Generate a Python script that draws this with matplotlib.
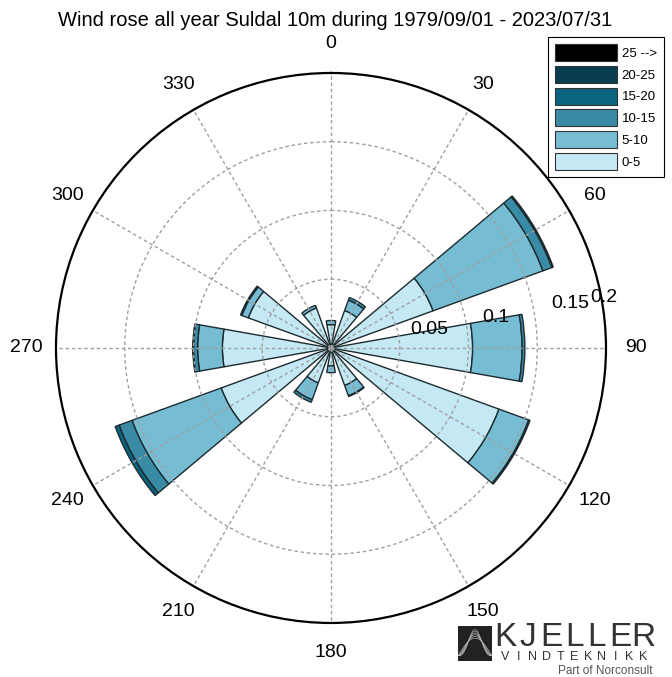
import numpy as np
import matplotlib
matplotlib.use("Agg")
import matplotlib.pyplot as plt
from matplotlib.patches import Patch

plt.rcParams['font.family'] = ['Liberation Sans', 'DejaVu Sans']

# wind direction sectors (degrees from north, clockwise)
directions = [0, 30, 60, 90, 120, 150, 180, 210, 240, 270, 300, 330]

# frequency per speed bin (fraction of time)
freq_0_5 = [0.017, 0.029, 0.079, 0.103, 0.130, 0.029, 0.013, 0.027, 0.085, 0.079, 0.064, 0.031]
freq_5_10 = [0.003, 0.008, 0.085, 0.036, 0.023, 0.008, 0.005, 0.013, 0.069, 0.018, 0.005, 0.002]
freq_10_15 = [0.0, 0.002, 0.007, 0.002, 0.001, 0.0005, 0.0, 0.002, 0.010, 0.003, 0.001, 0.0]
freq_15_20 = [0.0, 0.0, 0.001, 0.0, 0.0, 0.0, 0.0, 0.0, 0.003, 0.0005, 0.0, 0.0]
freq_20_25 = [0.0, 0.0, 0.0, 0.0, 0.0, 0.0, 0.0, 0.0, 0.0, 0.0, 0.0, 0.0]
freq_25_up = [0.0, 0.0, 0.0, 0.0, 0.0, 0.0, 0.0, 0.0, 0.0, 0.0, 0.0, 0.0]

speed_labels = ["0-5", "5-10", "10-15", "15-20", "20-25", "25 -->"]
speed_colors = ["#c4e9f5", "#76bdd4", "#3a8ca6", "#0a6480", "#083c50", "#000000"]

radial_ticks = [0.05, 0.1, 0.15, 0.2]
radial_labels = ["0.05", "0.1", "0.15", "0.2"]

fig = plt.figure(figsize=(6.72, 6.77), dpi=100)
ax = fig.add_axes([0.0833, 0.0798, 0.8185, 0.8124], projection="polar")
ax.set_theta_zero_location("N")
ax.set_theta_direction(-1)

theta = np.deg2rad(directions)
width = np.deg2rad(20)

series = [freq_0_5, freq_5_10, freq_10_15, freq_15_20, freq_20_25, freq_25_up]
bottom = np.zeros(len(directions))
for vals, col in zip(series, speed_colors):
    vals = np.array(vals)
    mask = vals > 0
    ax.bar(theta[mask], vals[mask], width=width, bottom=bottom[mask],
           color=col, edgecolor="#1c2b30", linewidth=1.0)
    bottom = bottom + vals

ax.set_ylim(0, 0.2)
ax.set_thetagrids(directions, [""] * len(directions))
ax.set_yticks(radial_ticks)
ax.set_yticklabels([])
ax.grid(True, color="#a0a0a0", linestyle=(0, (2.5, 2)), linewidth=1.0)
ax.spines["polar"].set_linewidth(1.6)
ax.spines["polar"].set_color("black")

# direction labels at a fixed distance outside the circle
for d in directions:
    ax.text(np.deg2rad(d), 0.2215, str(d), fontsize=14, ha="center", va="center",
            clip_on=False)

# radial labels, placed like the original (offset outward)
label_r = [0.073, 0.122, 0.177, 0.202]
for r, lab in zip(label_r, radial_labels):
    ax.text(np.deg2rad(79.5), r, lab, fontsize=14, ha="center", va="center")

fig.suptitle("Wind rose all year Suldal 10m during 1979/09/01 - 2023/07/31",
             x=0.498, y=0.984, fontsize=14.5, va="top")

handles = [Patch(facecolor=c, edgecolor="#333333", linewidth=0.8) for c in speed_colors]
leg = fig.legend(handles[::-1], speed_labels[::-1], loc="upper right",
                 bbox_to_anchor=(664 / 672, 1 - 37 / 677), borderaxespad=0,
                 fontsize=9.5, handlelength=4.7, handleheight=1.6,
                 labelspacing=0.36, handletextpad=0.35, borderpad=0.55,
                 fancybox=False, framealpha=1)
leg.get_frame().set_edgecolor("black")
leg.get_frame().set_linewidth(0.8)

# company logo, bottom right
logo = fig.add_axes([458 / 672, 1 - 661 / 677, 34 / 672, 35 / 677])
logo.set_facecolor("#222222")
logo.set_xticks([])
logo.set_yticks([])
for s in logo.spines.values():
    s.set_visible(False)
xs = np.linspace(0, 1, 50)
for k in range(6):
    logo.plot(xs, 0.15 + (0.5 + 0.05 * k) * np.sin(np.pi * xs) ** (1 + k * 0.4),
              color="#bbbbbb", linewidth=0.4)
logo.set_xlim(0, 1)
logo.set_ylim(0, 1)

# spread the logo letters evenly over the same width
for word, size, y in [("KJELLER", 24, 637), ("VINDTEKNIKK", 9, 657)]:
    xs_letters = np.linspace(505, 643, len(word))
    for ch, xl in zip(word, xs_letters):
        fig.text(xl / 672, 1 - y / 677, ch, fontsize=size, color="#333333",
                 va="center", ha="center")
fig.text(652 / 672, 1 - 671 / 677, "Part of Norconsult", fontsize=8.5,
         color="#555555", va="center", ha="right")

fig.savefig("out.png", dpi=100)
